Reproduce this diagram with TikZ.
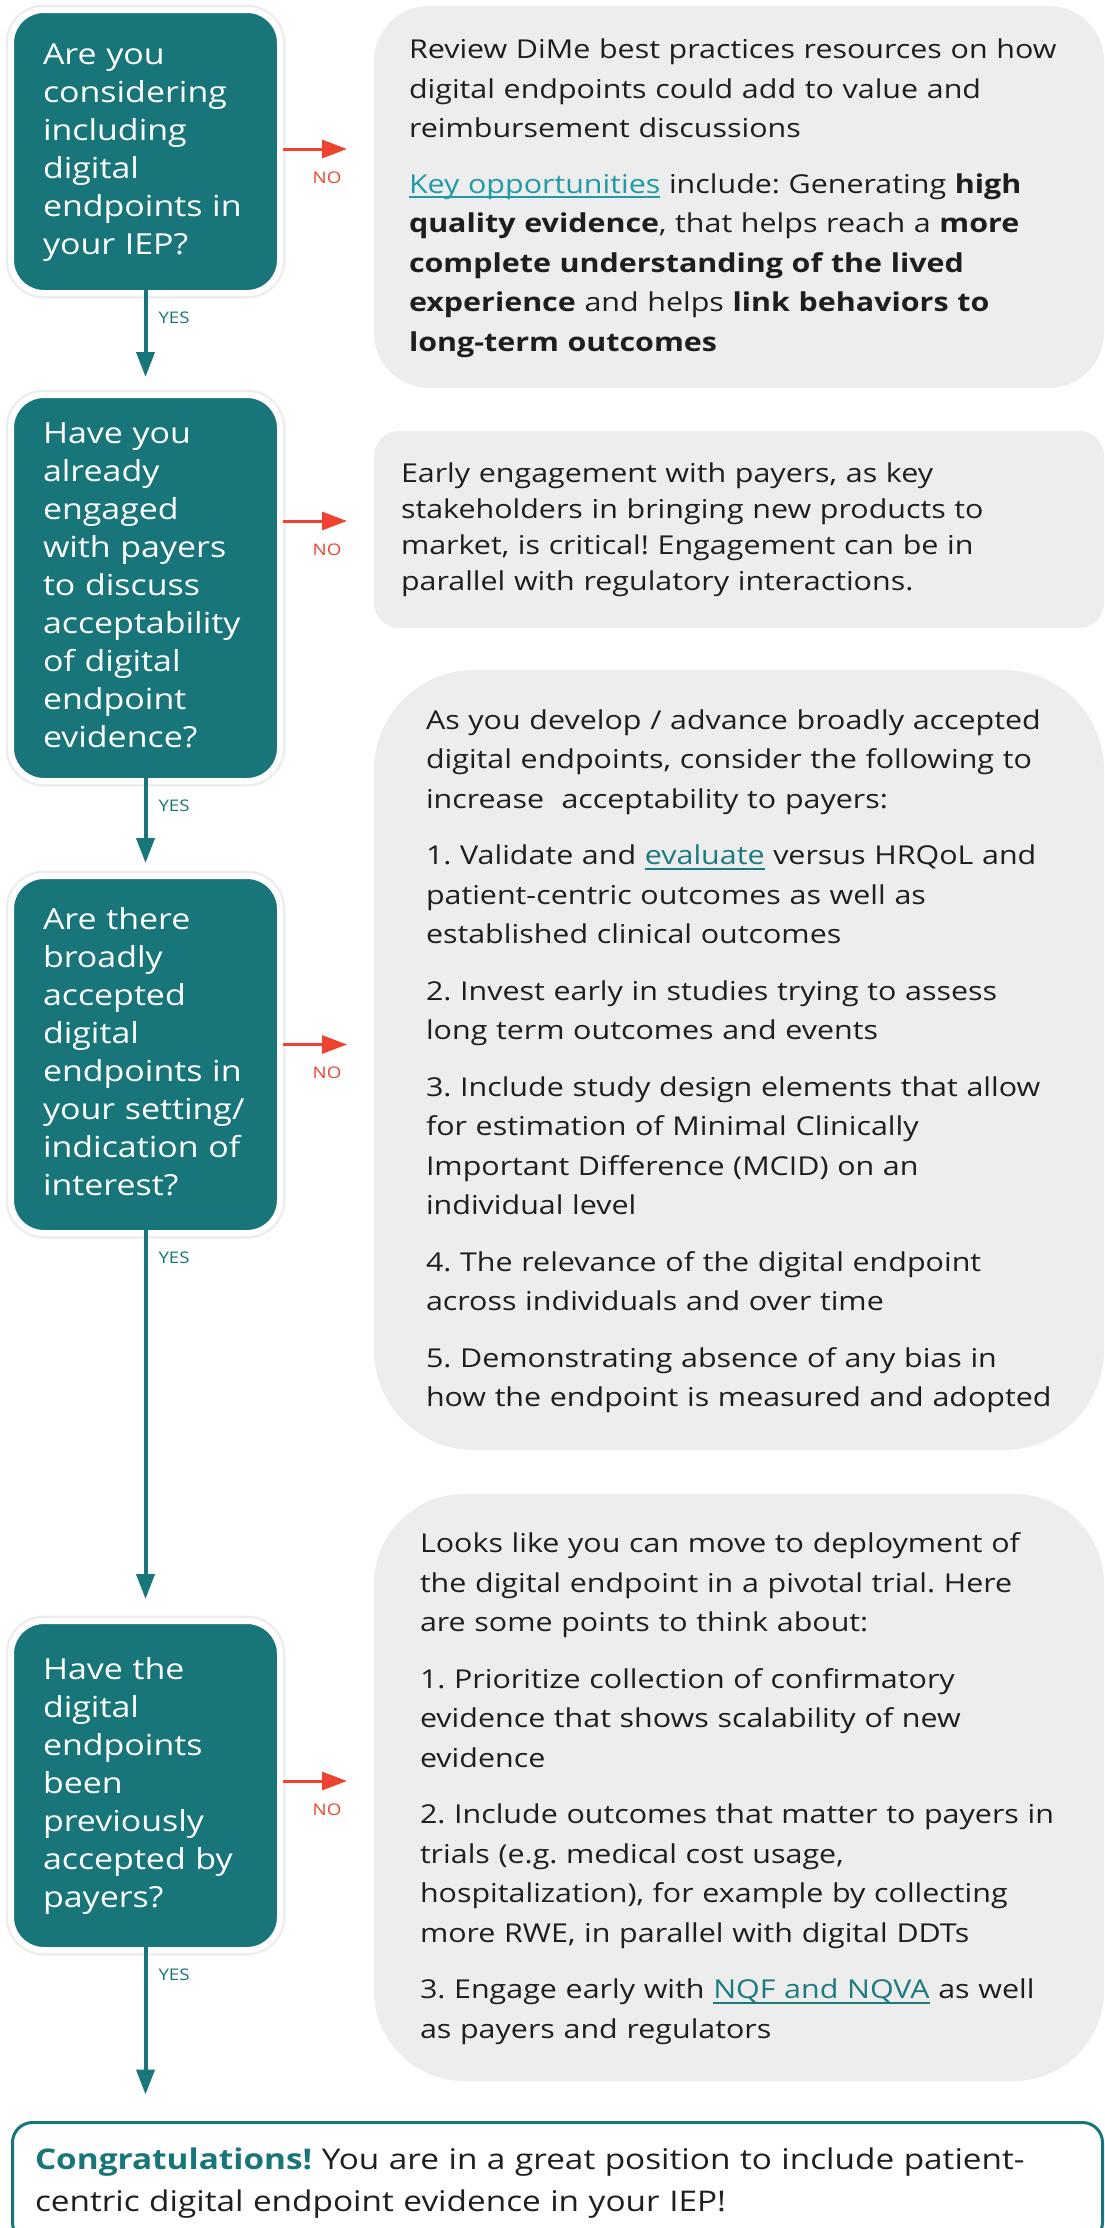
\documentclass[tikz,border=0pt]{standalone}
\usepackage{fontspec}
\setmainfont{Open Sans}[FakeStretch=1.17]
\frenchspacing
\usetikzlibrary{arrows.meta, positioning}

\definecolor{dimeteal}{HTML}{18767A}
\definecolor{nored}{HTML}{EE4331}
\definecolor{panel}{HTML}{EDEDED}
\definecolor{ink}{HTML}{1E1E1E}
\definecolor{keylink}{HTML}{1F9AA6}
\definecolor{tealink}{HTML}{1C7B80}

% underlined link text
\newcommand{\lnk}[2]{{\color{#1}\setbox0\hbox{#2}\rlap{\rule[-5pt]{\wd0}{2pt}}\box0}}
% keeps the line breaks as given
\newcommand{\lines}[1]{\begin{tabular}{@{}l@{}}#1\end{tabular}}

\tikzset{
    x=1pt, y=-1pt, % pixel units, counted from the top left
    >={Triangle[width=18pt, length=25pt]}, % filled arrow heads
    question/.style={fill=dimeteal, draw=white, line width=6pt, rounded corners=33pt,
        preaction={draw=black!7, line width=11pt},
        text=white, font=\fontsize{29}{38}\selectfont, align=left,
        text width=205pt, inner xsep=32pt, inner ysep=0pt, outer sep=0pt},
    advice/.style={fill=panel, text=ink, font=\fontsize{26}{39.5}\selectfont, align=left,
        minimum width=730pt, inner ysep=0pt, outer sep=0pt},
    done/.style={draw=dimeteal, line width=3pt, fill=white, rounded corners=20pt,
        text=ink, font=\fontsize{28.5}{42}\selectfont, align=left,
        text width=1045pt, inner xsep=22.5pt, inner ysep=18pt, outer sep=0pt},
    yes/.style={->, draw=dimeteal, line width=4pt, shorten <=-3pt},
    no/.style={->, draw=nored, line width=3pt, shorten <=3pt, shorten >=27pt},
    yestag/.style={text=dimeteal, font=\fontsize{16}{16}\selectfont, inner sep=0pt,
        anchor=north west, xshift=11pt, yshift=-17pt},
    notag/.style={text=nored, font=\fontsize{16}{16}\selectfont, inner sep=0pt, below=21pt},
}

\begin{document}
\begin{tikzpicture}
\useasboundingbox (0,0) rectangle (1105,2228);
\clip (0,0) rectangle (1105,2228);

% questions down the left
\node[question, minimum height=283pt] (q1) at (145.5,151.5)
    {\lines{Are you\\ considering\\ including\\ digital\\ endpoints in\\ your IEP?}};
\node[question, minimum height=386pt] (q2) at (145.5,588)
    {\lines{Have you\\ already\\ engaged\\ with payers\\ to discuss\\ acceptability\\ of digital\\ endpoint\\ evidence?}};
\node[question, minimum height=357pt] (q3) at (145.5,1054.5)
    {\lines{Are there\\ broadly\\ accepted\\ digital\\ endpoints in\\ your setting/\\ indication of\\ interest?}};
\node[question, minimum height=329pt] (q4) at (145.5,1785.5)
    {\lines{Have the\\ digital\\ endpoints\\ been\\ previously\\ accepted by\\ payers?}};

% advice on the right
\node[advice, minimum height=382pt, rounded corners=55pt, text width=660pt, inner xsep=35pt] (a1) at (739,197)
    {\lines{Review DiMe best practices resources on how\\
    digital endpoints could add to value and\\
    reimbursement discussions\\[16pt]
    \lnk{keylink}{Key opportunities} include: Generating \textbf{high}\\
    \textbf{quality evidence}, that helps reach a \textbf{more}\\
    \textbf{complete understanding of the lived}\\
    \textbf{experience} and helps \textbf{link behaviors to}\\
    \textbf{long-term outcomes}}};
\node[advice, minimum height=197pt, rounded corners=25pt, text width=676pt, inner xsep=27pt,
      font=\fontsize{26}{36}\selectfont] (a2) at (739,529.5)
    {\lines{Early engagement with payers, as key\\
    stakeholders in bringing new products to\\
    market, is critical! Engagement can be in\\
    parallel with regulatory interactions.}};
\node[advice, minimum height=780pt, rounded corners=100pt, text width=626pt, inner xsep=52pt] (a3) at (739,1060)
    {\lines{As you develop / advance broadly accepted\\
    digital endpoints, consider the following to\\
    increase\ \ acceptability to payers:\\[17pt]
    1. Validate and \lnk{tealink}{evaluate} versus HRQoL and\\
    patient-centric outcomes as well as\\
    established clinical outcomes\\[17pt]
    2. Invest early in studies trying to assess\\
    long term outcomes and events\\[17pt]
    3. Include study design elements that allow\\
    for estimation of Minimal Clinically\\
    Important Difference (MCID) on an\\
    individual level\\[17pt]
    4. The relevance of the digital endpoint\\
    across individuals and over time\\[17pt]
    5. Demonstrating absence of any bias in\\
    how the endpoint is measured and adopted}};
\node[advice, minimum height=587pt, rounded corners=90pt, text width=638pt, inner xsep=46pt] (a4) at (739,1787.5)
    {\lines{Looks like you can move to deployment of\\
    the digital endpoint in a pivotal trial. Here\\
    are some points to think about:\\[17pt]
    1. Prioritize collection of confirmatory\\
    evidence that shows scalability of new\\
    evidence\\[17pt]
    2. Include outcomes that matter to payers in\\
    trials (e.g. medical cost usage,\\
    hospitalization), for example by collecting\\
    more RWE, in parallel with digital DDTs\\[17pt]
    3. Engage early with \lnk{tealink}{NQF and NQVA} as well\\
    as payers and regulators}};

% final outcome
\node[done, anchor=north west] (done) at (12.5,2122.5)
    {\lines{\textcolor{dimeteal}{\textbf{Congratulations!}} You are in a great position to include patient-\\
    centric digital endpoint evidence in your IEP!}};

% where the NO arrows leave
\coordinate (n1) at ([yshift=2.5pt]q1.east);
\coordinate (n2) at ([yshift=67pt]q2.east);
\coordinate (n3) at ([yshift=10pt]q3.east);
\coordinate (n4) at ([yshift=4.5pt]q4.east);

\draw
    (q1.south) edge[yes, shorten >=18pt] node[yestag, at start] {YES} (q2.north)
    (q2.south) edge[yes, shorten >=13pt] node[yestag, at start] {YES} (q3.north)
    (q3.south) edge[yes, shorten >=22pt] node[yestag, at start] {YES} (q4.north)
    (q4.south) edge[yes, shorten >=28pt] node[yestag, at start] {YES} (q4.south |- done.north)
    (n1) edge[no] node[notag, midway] {NO} (n1 -| a1.west)
    (n2) edge[no] node[notag, midway] {NO} (n2 -| a2.west)
    (n3) edge[no] node[notag, midway] {NO} (n3 -| a3.west)
    (n4) edge[no] node[notag, midway] {NO} (n4 -| a4.west);
\end{tikzpicture}
\end{document}
